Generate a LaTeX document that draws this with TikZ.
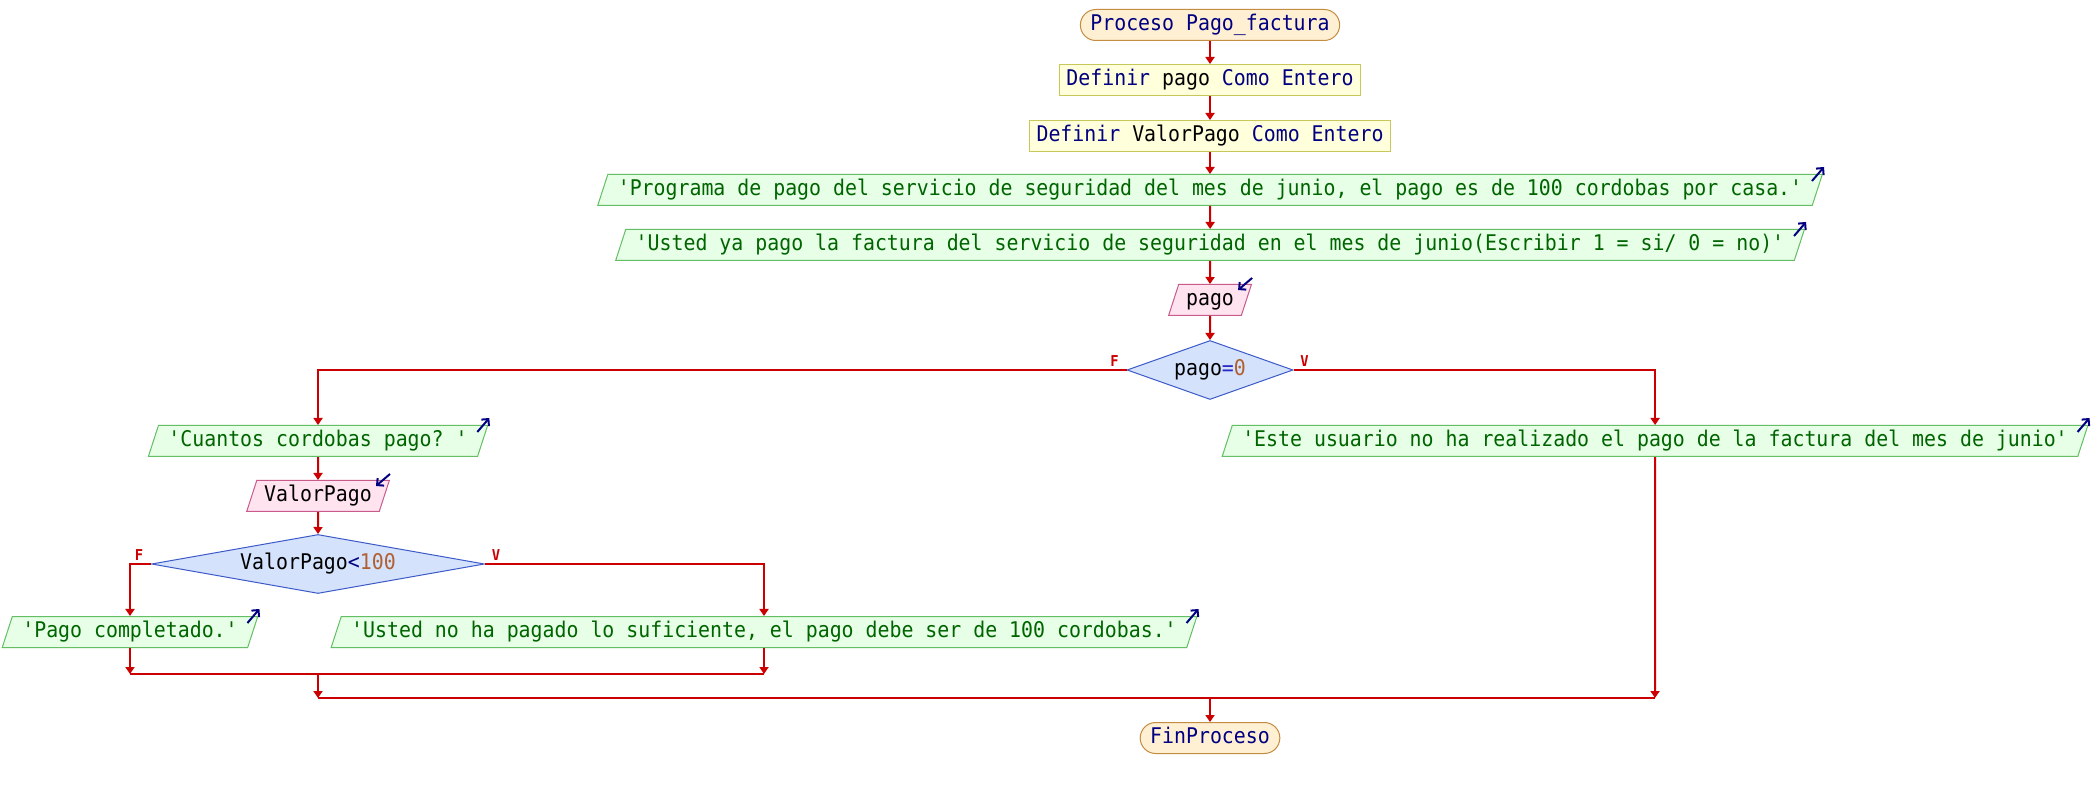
\documentclass[tikz,border=0pt]{standalone}
\usepackage{fontspec}
\setmonofont[FakeStretch=0.92]{DejaVu Sans Mono}
\usetikzlibrary{shapes.geometric,arrows.meta}
\definecolor{linea}{RGB}{204,0,0}
\definecolor{clave}{RGB}{0,0,128}
\definecolor{cadena}{RGB}{0,100,0}
\definecolor{numero}{RGB}{176,96,48}
\definecolor{oper}{RGB}{40,40,200}
\definecolor{fterm}{RGB}{255,240,212}
\definecolor{bterm}{RGB}{196,140,64}
\definecolor{fdef}{RGB}{255,255,220}
\definecolor{bdef}{RGB}{200,200,90}
\definecolor{fesc}{RGB}{230,255,230}
\definecolor{besc}{RGB}{100,190,100}
\definecolor{flee}{RGB}{255,228,240}
\definecolor{blee}{RGB}{200,90,140}
\definecolor{fdec}{RGB}{212,226,252}
\definecolor{bdec}{RGB}{60,90,200}
\newcommand{\kw}[1]{\textcolor{clave}{#1}}
\begin{document}
\begin{tikzpicture}[x=0.5pt,y=-0.5pt,
    font=\ttfamily\fontsize{10.8}{13}\selectfont,
    caja/.style={text height=8pt, text depth=2.5pt, inner ysep=2.5pt, line width=0.5pt},
    terminal/.style={caja, rectangle, rounded corners=7.75pt, draw=bterm, fill=fterm, inner xsep=5pt},
    definir/.style={caja, rectangle, draw=bdef, fill=fdef, inner xsep=3.5pt},
    escribir/.style={caja, trapezium, trapezium left angle=72, trapezium right angle=108,
        draw=besc, fill=fesc, text=cadena, inner xsep=5pt},
    leer/.style={caja, trapezium, trapezium left angle=72, trapezium right angle=108,
        draw=blee, fill=flee, inner xsep=3.7pt},
    decision/.style={caja, diamond, draw=bdec, fill=fdec, inner sep=0pt, minimum height=29.5pt},
    etiq/.style={text=linea, font=\ttfamily\bfseries\fontsize{7.5}{8}\selectfont, inner sep=0pt},
    flecha/.style={draw=linea, line width=1pt, -{Triangle[width=4.5pt,length=3.5pt]}},
    union/.style={draw=linea, line width=1pt},
    icono/.style={draw=clave, line width=1pt, -{Straight Barb[length=2.5pt,width=5pt]}}]
                %%% Page and background
                \useasboundingbox (0,0) rectangle (2092,790);
                \fill[white] (0,0) rectangle (2092,790);
                %%% Main column
                \node[terminal] (ini) at (1210,25) {\kw{Proceso Pago\_factura}};
                \node[definir] (d1) at (1210,80) {\kw{Definir} pago \kw{Como Entero}};
                \node[definir] (d2) at (1210,136) {\kw{Definir} ValorPago \kw{Como Entero}};
                \node[escribir] (o1) at (1210,190) {'Programa de pago del servicio de seguridad del mes de junio, el pago es de 100 cordobas por casa.'};
                \node[escribir] (o2) at (1210,245) {'Usted ya pago la factura del servicio de seguridad en el mes de junio(Escribir 1 = si/ 0 = no)'};
                \node[leer] (l1) at (1210,300) {pago};
                \node[decision, aspect=2.8, minimum width=83pt] (c1) at (1210,370) {pago\textcolor{oper}{=}\textcolor{numero}{0}};
                \node[etiq] (c1f) at ([xshift=-6pt,yshift=4.5pt]c1.west) {F};
                \node[etiq] (c1v) at ([xshift=5.5pt,yshift=4.5pt]c1.east) {V};
                %%% Branch F of pago=0
                \node[escribir] (o3) at (318,441) {'Cuantos cordobas pago? '};
                \node[leer] (l2) at (318,496) {ValorPago};
                \node[decision, aspect=5.6, minimum width=166.5pt] (c2) at (318,564) {ValorPago\textcolor{clave}{<}\textcolor{numero}{100}};
                \node[etiq] (c2f) at ([xshift=-6pt,yshift=4.5pt]c2.west) {F};
                \node[etiq] (c2v) at ([xshift=5.5pt,yshift=4.5pt]c2.east) {V};
                \node[escribir] (o4) at (130,632) {'Pago completado.'};
                \node[escribir] (o5) at (764,632) {'Usted no ha pagado lo suficiente, el pago debe ser de 100 cordobas.'};
                %%% Branch V of pago=0
                \node[escribir] (o6) at (1655,441) {'Este usuario no ha realizado el pago de la factura del mes de junio'};
                %%% End
                \node[terminal] (fin) at (1210,738) {\kw{FinProceso}};
                %%% Merge points
                \coordinate (m2i) at (130,674);
                \coordinate (m2c) at (318,674);
                \coordinate (m2d) at (764,674);
                \coordinate (m1i) at (318,698);
                \coordinate (m1c) at (1210,698);
                \coordinate (m1d) at (1655,698);
                %%% Connectors
                \draw[flecha] (ini) -- (d1);
                \draw[flecha] (d1) -- (d2);
                \draw[flecha] (d2) -- (o1);
                \draw[flecha] (o1) -- (o2);
                \draw[flecha] (o2) -- (l1);
                \draw[flecha] (l1) -- (c1);
                \draw[flecha] (c1.west) -| (o3);
                \draw[flecha] (c1.east) -| (o6);
                \draw[flecha] (o3) -- (l2);
                \draw[flecha] (l2) -- (c2);
                \draw[flecha] (c2.west) -| (o4);
                \draw[flecha] (c2.east) -| (o5);
                \draw[flecha] (o4) -- (m2i);
                \draw[flecha] (o5) -- (m2d);
                \draw[union] (m2i) -- (m2d);
                \draw[flecha] (m2c) -- (m1i);
                \draw[flecha] (o6) -- (m1d);
                \draw[union] (m1i) -- (m1d);
                \draw[flecha] (m1c) -- (fin);
                %%% Output and input marks
                \foreach \n in {o1,o2,o3,o4,o5,o6}
                    \draw[icono] ([shift={(-11,7)}]\n.top right corner) -- ++(12,-14);
                \foreach \n in {l1,l2}
                    \draw[icono] ([shift={(0,-6)}]\n.top right corner) -- ++(-14,12);
\end{tikzpicture}
\end{document}
